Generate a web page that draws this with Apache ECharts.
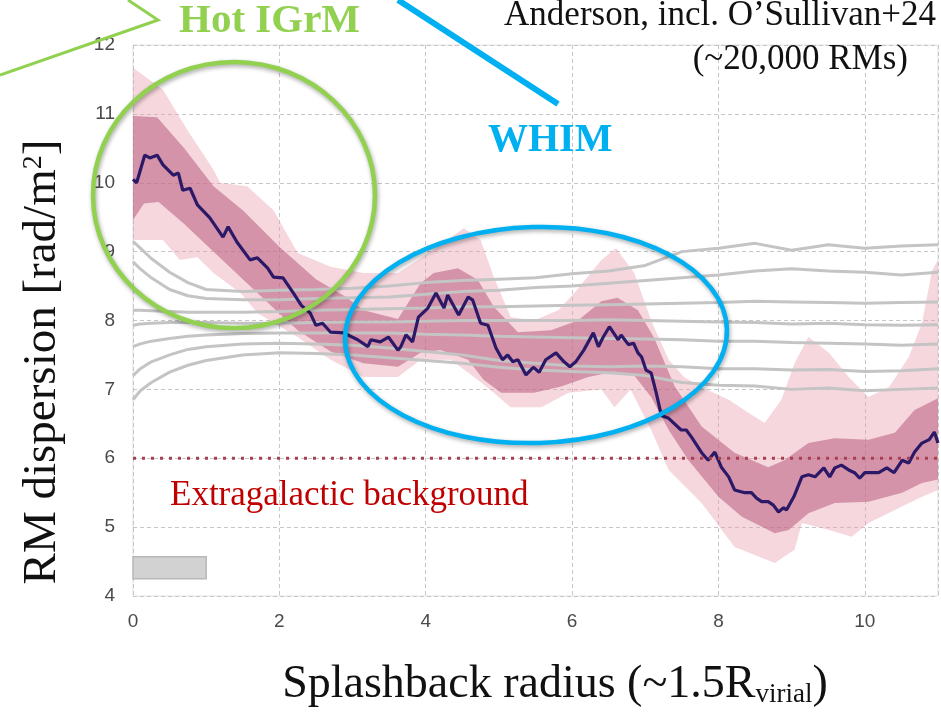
<!DOCTYPE html>
<html>
<head>
<meta charset="utf-8">
<script src="https://cdn.jsdelivr.net/npm/echarts@6/dist/echarts.min.js"></script>
<style>
  html, body { margin: 0; padding: 0; background: #fff; }
  #chart { width: 941px; height: 712px; }
</style>
</head>
<body>
<div id="chart"></div>
<script>
// stacked RM dispersion profile (mean) vs splashback radius
const meanRM = [
  [0.00, 10.05], [0.05, 10.00], [0.16, 10.40], [0.23, 10.36], [0.33, 10.40], [0.41, 10.26],
  [0.55, 10.11], [0.62, 10.14], [0.68, 9.89], [0.78, 9.92], [0.88, 9.68], [1.05, 9.49],
  [1.23, 9.21], [1.30, 9.36], [1.42, 9.14], [1.60, 8.88], [1.70, 8.91], [1.84, 8.76],
  [1.92, 8.63], [2.05, 8.62], [2.19, 8.40], [2.30, 8.22], [2.42, 8.11], [2.50, 7.93],
  [2.59, 7.96], [2.70, 7.83], [2.88, 7.82], [3.07, 7.72], [3.21, 7.62], [3.25, 7.72],
  [3.38, 7.69], [3.49, 7.76], [3.62, 7.57], [3.66, 7.62], [3.73, 7.79], [3.82, 7.69],
  [3.90, 8.05], [4.03, 8.18], [4.14, 8.40], [4.25, 8.18], [4.30, 8.37], [4.45, 8.08],
  [4.58, 8.34], [4.64, 8.30], [4.75, 7.96], [4.85, 7.93], [4.96, 7.60], [5.05, 7.43],
  [5.12, 7.50], [5.19, 7.40], [5.26, 7.43], [5.37, 7.21], [5.47, 7.32], [5.55, 7.25],
  [5.64, 7.43], [5.78, 7.53], [5.89, 7.40], [5.97, 7.33], [6.05, 7.40], [6.16, 7.57],
  [6.29, 7.82], [6.36, 7.62], [6.42, 7.75], [6.51, 7.91], [6.63, 7.72], [6.67, 7.79],
  [6.77, 7.65], [6.84, 7.67], [6.90, 7.53], [6.95, 7.47], [7.01, 7.28], [7.08, 7.24],
  [7.15, 6.95], [7.22, 6.62], [7.32, 6.58], [7.49, 6.41], [7.56, 6.41], [7.63, 6.31],
  [7.77, 6.08], [7.86, 5.97], [7.95, 6.09], [8.04, 5.87], [8.14, 5.73], [8.22, 5.54],
  [8.36, 5.50], [8.45, 5.50], [8.52, 5.42], [8.59, 5.37], [8.68, 5.37], [8.75, 5.32],
  [8.82, 5.22], [8.89, 5.28], [8.93, 5.25], [9.03, 5.44], [9.14, 5.73], [9.23, 5.76],
  [9.32, 5.73], [9.44, 5.86], [9.52, 5.73], [9.59, 5.86], [9.68, 5.90], [9.78, 5.83],
  [9.86, 5.79], [9.93, 5.71], [10.00, 5.79], [10.19, 5.79], [10.30, 5.86], [10.40, 5.79],
  [10.51, 5.97], [10.60, 5.93], [10.68, 6.09], [10.78, 6.22], [10.88, 6.27], [10.95, 6.38],
  [11.00, 6.22]
]

// 1 sigma band
const innerUpper = [
  [0, 10.97], [0.33, 10.95], [0.7, 10.5], [1.1, 9.95], [1.5, 9.6], [2.0, 9.07], [2.5, 8.6],
  [2.9, 8.35], [3.15, 8.15], [3.62, 8.02], [3.93, 8.54], [4.11, 8.69], [4.44, 8.76],
  [4.71, 8.59], [4.93, 8.2], [5.26, 7.83], [5.71, 7.86], [6.08, 8.0], [6.4, 8.28],
  [6.62, 8.33], [6.9, 8.15], [7.12, 7.75], [7.4, 7.05], [7.77, 6.46], [8.22, 6.08],
  [8.68, 5.87], [8.9, 5.97], [9.23, 6.22], [9.59, 6.29], [10.05, 6.27], [10.41, 6.37],
  [10.68, 6.70], [11, 6.87]
]
const innerLower = [
  [0, 9.46], [0.15, 9.7], [0.35, 9.72], [0.7, 9.4], [1.0, 9.1], [1.5, 8.6], [2.0, 8.1],
  [2.25, 7.86], [2.7, 7.55], [3.15, 7.38], [3.62, 7.33], [3.93, 7.53], [4.2, 7.57],
  [4.58, 7.43], [4.79, 7.14], [5.03, 6.95], [5.48, 6.95], [5.85, 7.04], [6.22, 7.18],
  [6.58, 7.26], [6.85, 7.2], [7.08, 6.89], [7.32, 6.41], [7.59, 5.97], [8.0, 5.44],
  [8.32, 5.15], [8.77, 4.91], [8.96, 4.96], [9.23, 5.2], [9.59, 5.35], [10.05, 5.37],
  [10.51, 5.5], [10.78, 5.64], [11, 5.69]
]
// 2 sigma band
const outerUpper = [
  [0, 11.67], [0.41, 11.35], [0.74, 10.77], [1.1, 10.19], [1.19, 10.0], [1.56, 9.95],
  [1.92, 9.6], [2.25, 8.98], [2.7, 8.78], [3.15, 8.69], [3.62, 8.69], [3.85, 8.85],
  [4.16, 9.07], [4.52, 9.34], [4.75, 9.17], [4.93, 8.63], [5.16, 8.05], [5.48, 8.0],
  [5.81, 8.15], [6.03, 8.40], [6.4, 8.88], [6.6, 9.05], [6.85, 8.69], [7.08, 8.0],
  [7.32, 7.43], [7.53, 7.18], [7.77, 7.03], [8.14, 6.85], [8.41, 6.66], [8.63, 6.51],
  [8.86, 6.85], [9.04, 7.38], [9.23, 7.76], [9.51, 7.53], [9.78, 7.18], [10.05, 6.89],
  [10.33, 7.03], [10.6, 7.47], [10.78, 7.96], [10.92, 8.73], [11, 8.88]
]
const outerLower = [
  [0, 9.17], [0.41, 9.17], [0.64, 8.88], [0.88, 8.92], [1.1, 8.69], [1.47, 8.40],
  [1.7, 8.11], [2.25, 7.76], [2.7, 7.43], [3.15, 7.18], [3.62, 7.18], [3.93, 7.43],
  [4.34, 7.43], [4.66, 7.18], [4.93, 6.95], [5.16, 6.74], [5.58, 6.74], [5.95, 6.95],
  [6.4, 7.0], [6.58, 6.74], [6.8, 7.0], [7.08, 6.41], [7.32, 5.83], [7.77, 5.35],
  [8.22, 4.71], [8.77, 4.48], [9.04, 4.67], [9.14, 5.06], [9.51, 4.96], [9.82, 4.86],
  [10.05, 5.06], [10.41, 5.25], [10.78, 5.44], [11, 5.54]
]

// random-position control profiles (grey)
const controlX = [0, 0.1, 0.25, 0.5, 0.75, 1, 1.5, 2, 2.5, 3, 3.5, 4, 4.5, 5, 5.5, 6, 6.5, 7, 7.5, 8, 8.5, 9, 9.5, 10, 10.5, 11]
const controlA = [9.15, 9.05, 8.9, 8.7, 8.55, 8.45, 8.42, 8.44, 8.45, 8.47, 8.5, 8.55, 8.58, 8.6, 8.62, 8.68, 8.72, 8.8, 9.0, 9.05, 9.12, 9.02, 9.1, 9.05, 9.08, 9.1]
const controlB = [8.85, 8.75, 8.62, 8.45, 8.36, 8.32, 8.3, 8.3, 8.32, 8.33, 8.34, 8.38, 8.42, 8.44, 8.48, 8.5, 8.54, 8.58, 8.62, 8.66, 8.72, 8.75, 8.72, 8.7, 8.66, 8.7]
const controlC = [8.15, 8.15, 8.14, 8.13, 8.12, 8.12, 8.12, 8.13, 8.15, 8.16, 8.17, 8.18, 8.2, 8.2, 8.21, 8.22, 8.23, 8.24, 8.25, 8.26, 8.28, 8.27, 8.26, 8.25, 8.26, 8.27]
const controlD = [7.93, 7.95, 7.96, 7.97, 7.97, 7.97, 7.96, 7.96, 7.97, 7.98, 7.98, 7.99, 8.0, 8.0, 8.0, 8.0, 8.01, 8.0, 7.99, 7.98, 7.97, 7.95, 7.96, 7.94, 7.93, 7.94]
const controlE = [7.62, 7.66, 7.7, 7.74, 7.77, 7.79, 7.81, 7.82, 7.82, 7.82, 7.82, 7.8, 7.79, 7.77, 7.76, 7.75, 7.74, 7.73, 7.72, 7.7, 7.7, 7.68, 7.67, 7.66, 7.64, 7.66]
const controlF = [7.2, 7.3, 7.4, 7.5, 7.58, 7.62, 7.66, 7.67, 7.66, 7.64, 7.6, 7.55, 7.5, 7.42, 7.38, 7.34, 7.33, 7.34, 7.33, 7.3, 7.3, 7.28, 7.29, 7.26, 7.27, 7.3]
const controlG = [6.85, 6.98, 7.1, 7.25, 7.35, 7.42, 7.5, 7.53, 7.52, 7.5, 7.46, 7.42, 7.38, 7.32, 7.28, 7.26, 7.24, 7.2, 7.1, 7.06, 7.05, 7.0, 7.02, 6.98, 7.0, 7.02]

const bgLevel = [[0, 6], [11, 6]]
const scaleBar = [[0, 4.25], [1, 4.57]]

const serif = '"Liberation Serif", "DejaVu Serif", serif'
const chart = echarts.init(document.getElementById('chart'))

function bandSeries(upper, lower, fill) {
  return {
    type: 'custom',
    silent: true,
    z: 2,
    data: [upper[0]],
    renderItem: function (params, api) {
      const pts = upper.map(p => api.coord(p))
        .concat(lower.slice().reverse().map(p => api.coord(p)))
      return { type: 'polygon', shape: { points: pts }, style: { fill: fill } }
    }
  }
}

const controls = [controlA, controlB, controlC, controlD, controlE, controlF, controlG]
const controlSeries = controls.map(ys => ({
  type: 'line',
  data: controlX.map((x, i) => [x, ys[i]]),
  showSymbol: false,
  silent: true,
  z: 2,
  lineStyle: { color: '#c4c4c4', width: 3 }
}))

const option = {
  animation: false,
  grid: { left: 133, right: 3, top: 45, bottom: 116, show: true, borderColor: '#e2e2e2', borderWidth: 1 },
  xAxis: {
    type: 'value', min: 0, max: 11, interval: 2,
    axisLine: { show: false }, axisTick: { show: false },
    axisLabel: { color: '#4a4a4a', fontSize: 19, fontFamily: 'Liberation Sans, Arial', margin: 16,
      showMaxLabel: false },
    splitLine: { lineStyle: { color: '#c6c6c6', type: [4, 3] } }
  },
  yAxis: {
    type: 'value', min: 4, max: 12, interval: 1,
    axisLine: { show: false }, axisTick: { show: false },
    axisLabel: { color: '#4a4a4a', fontSize: 19, fontFamily: 'Liberation Sans, Arial', margin: 18 },
    splitLine: { lineStyle: { color: '#c6c6c6', type: [4, 3] } }
  },
  series: [
    ...controlSeries,
    bandSeries(outerUpper, outerLower, 'rgba(230,160,175,0.42)'),
    bandSeries(innerUpper, innerLower, 'rgba(180,80,115,0.5)'),
    {
      type: 'line',
      data: meanRM,
      showSymbol: false,
      z: 3,
      lineStyle: { color: '#2b1968', width: 3.2 }
    },
    {
      type: 'line',
      data: bgLevel,
      showSymbol: false,
      z: 3,
      lineStyle: { color: '#a8404f', width: 3, type: [3, 6] },
      markArea: {
        silent: true,
        itemStyle: { color: '#d2d2d2', borderColor: '#b8b8b8', borderWidth: 1.5 },
        data: [[{ coord: scaleBar[0] }, { coord: scaleBar[1] }]]
      }
    }
  ],
  graphic: [
    { type: 'ellipse', z: 100, shape: { cx: 234, cy: 195, rx: 141, ry: 133 },
      style: { fill: 'none', stroke: '#92d050', lineWidth: 4.5, shadowBlur: 4, shadowColor: 'rgba(0,0,0,0.35)', shadowOffsetX: 1, shadowOffsetY: 2 } },
    { type: 'ellipse', z: 100, shape: { cx: 536, cy: 335, rx: 191, ry: 108 }, rotation: 0.03, originX: 536, originY: 335,
      style: { fill: 'none', stroke: '#00b0f0', lineWidth: 4.5, shadowBlur: 4, shadowColor: 'rgba(0,0,0,0.35)', shadowOffsetX: 1, shadowOffsetY: 2 } },
    { type: 'polyline', z: 100, shape: { points: [[0, 75], [158, 20], [128, 0]] },
      style: { fill: 'none', stroke: '#92d050', lineWidth: 3 } },
    { type: 'line', z: 100, shape: { x1: 398, y1: 0, x2: 558, y2: 104 },
      style: { stroke: '#00b0f0', lineWidth: 6 } },
    { type: 'text', z: 100, x: 179, y: 21,
      style: { text: 'Hot IGrM', font: 'bold 41px ' + serif, fill: '#92d050', textVerticalAlign: 'middle' } },
    { type: 'text', z: 100, x: 488, y: 141,
      style: { text: 'WHIM', font: 'bold 40px ' + serif, fill: '#00b0f0', textVerticalAlign: 'middle' } },
    { type: 'text', z: 100, x: 936, y: 16,
      style: { text: 'Anderson, incl. O\u2019Sullivan+24', font: '35px ' + serif, fill: '#111', textAlign: 'right', textVerticalAlign: 'middle' } },
    { type: 'text', z: 100, x: 908, y: 60,
      style: { text: '(~20,000 RMs)', font: '35px ' + serif, fill: '#111', textAlign: 'right', textVerticalAlign: 'middle' } },
    { type: 'text', z: 100, x: 170, y: 496,
      style: { text: 'Extragalactic background', font: '35px ' + serif, fill: '#c00000', textVerticalAlign: 'middle' } },
    { type: 'text', z: 100, x: 43, y: 362, rotation: Math.PI / 2,
      style: {
        text: '{m|RM dispersion [rad/m}{s|2}{m|]}',
        textAlign: 'center', textVerticalAlign: 'middle',
        rich: {
          m: { font: '47px ' + serif, fill: '#111' },
          s: { font: '28px ' + serif, fill: '#111', verticalAlign: 'top' }
        }
      } },
    { type: 'text', z: 100, x: 555, y: 685,
      style: {
        text: '{m|Splashback radius (~1.5R}{s|virial}{m|)}',
        textAlign: 'center', textVerticalAlign: 'middle',
        rich: {
          m: { font: '46px ' + serif, fill: '#111' },
          s: { font: '27px ' + serif, fill: '#111', verticalAlign: 'bottom' }
        }
      } }
  ]
}

chart.setOption(option)
</script>
</body>
</html>
